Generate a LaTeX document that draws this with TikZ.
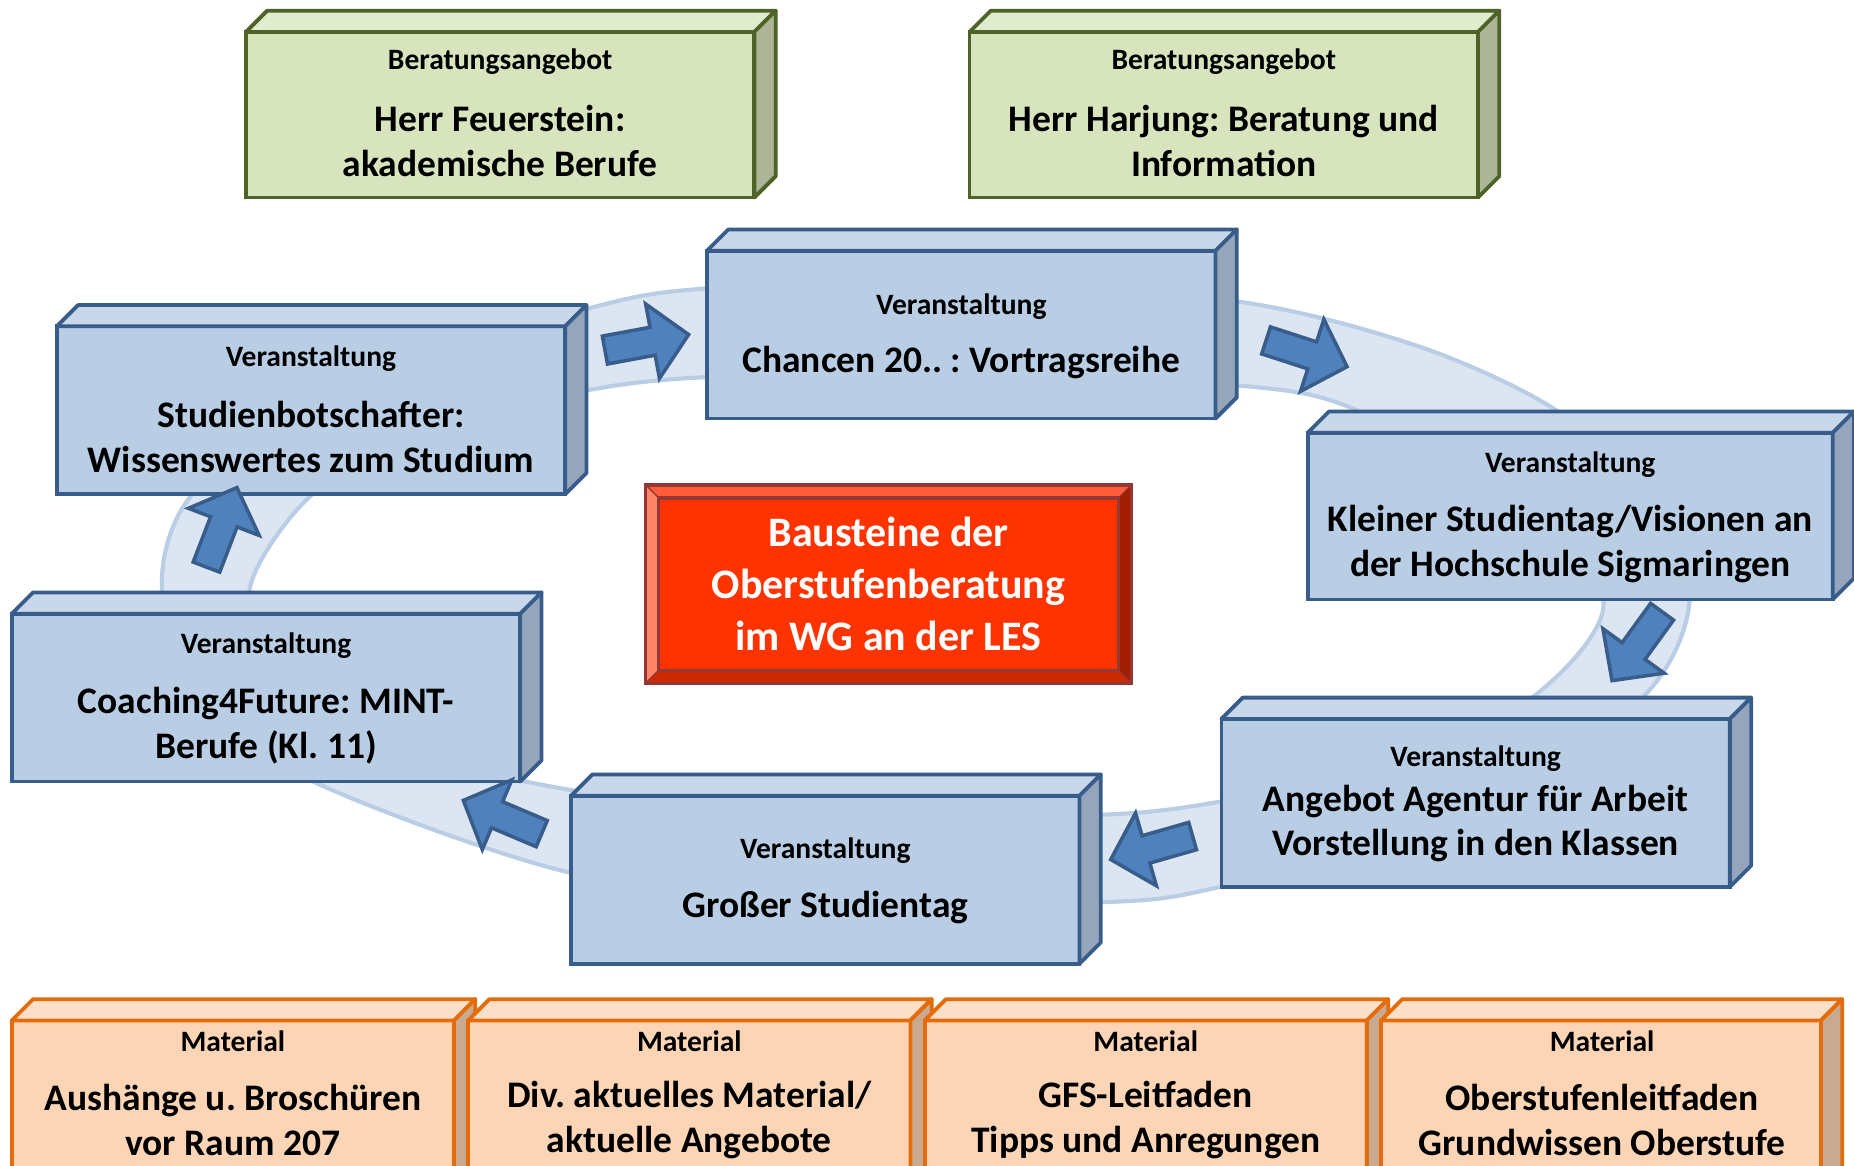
\documentclass[tikz,border=0pt]{standalone}
\usepackage{fontspec}
\setmainfont{Carlito}
\frenchspacing
\definecolor{bluefront}{HTML}{B9CDE5}
\definecolor{bluetop}{HTML}{C8D7EA}
\definecolor{blueside}{HTML}{95A6BC}
\definecolor{blueline}{HTML}{385D8A}
\definecolor{greenfront}{HTML}{D7E4BD}
\definecolor{greentop}{HTML}{E1EBCD}
\definecolor{greenside}{HTML}{ACB697}
\definecolor{greenline}{HTML}{4F6228}
\definecolor{orangefront}{HTML}{FBD5B5}
\definecolor{orangetop}{HTML}{FCDFC8}
\definecolor{orangeside}{HTML}{C9AA91}
\definecolor{orangeline}{HTML}{E46C0A}
\definecolor{ringfill}{HTML}{DCE6F2}
\definecolor{ringline}{HTML}{B9CDE5}
\definecolor{arrowfill}{HTML}{4F81BD}
\definecolor{redface}{HTML}{FF3300}
\definecolor{redtop}{HTML}{FF5C3A}
\definecolor{redleft}{HTML}{FF8566}
\definecolor{redright}{HTML}{A31D00}
\definecolor{redbottom}{HTML}{CC2900}
\definecolor{redline}{HTML}{953735}

\tikzset{
  frontface/.style={draw, line width=3.2pt, inner sep=0pt, outer sep=0pt},
  edgeface/.style={line width=3.2pt, line join=round},
  lab/.style={font=\fontsize{25}{29}\selectfont\bfseries\frenchspacing, inner sep=0pt, align=center},
  maintext/.style={font=\fontsize{31.7}{38}\selectfont\bfseries\frenchspacing, inner sep=0pt, align=center},
  blockarr/.style={fill=arrowfill, draw=blueline, line width=3pt, line join=miter},
  ringband/.style={fill=ringfill, draw=ringline, line width=3.5pt, even odd rule},
  bevel/.style={draw=redline, line width=1pt, line join=round},
}

\newcommand\cubebox[6]{%
  \node[frontface, draw=#6line, fill=#6front, minimum width={#4-#2}, minimum height={#5-#3}] (#1) at ({(#2+#4)/2},{(#3+#5)/2}) {};
  \filldraw[edgeface, draw=#6line, fill=#6top] (#1.north west) -- ++(18,-18) -- ++({#4-#2},0) -- (#1.north east) -- cycle;
  \filldraw[edgeface, draw=#6line, fill=#6side] (#1.north east) -- ++(18,-18) -- ++(0,{#5-#3}) -- (#1.south east) -- cycle;
}
\newcommand\boxtext[6]{%
  \node[lab] (#1l) at (#2,#3) {#4};
  \node[maintext] (#1t) at (#2,#5) {#6};
}
\newcommand\blockarrow[3]{%
  \draw[blockarr, shift={(#1,#2)}, rotate=#3] (-36,-12) -- (5,-12) -- (5,-32) -- (36,0) -- (5,32) -- (5,12) -- (-36,12) -- cycle;
}

\begin{document}
\begin{tikzpicture}[x=1pt, y=-1pt]
\useasboundingbox (0,0) rectangle (1568,986);
\clip (0,0) rectangle (1568,986);

% ring band
\filldraw[ringband]
  plot[smooth cycle] coordinates {(137,499) (161,420) (270,330) (497,261) (596,244) (800,236) (1047,255) (1200,293) (1313,345) (1400,420) (1429,507) (1390,589) (1250,690) (1032,750) (933,763) (700,763) (482,738) (265,661) (170,590)}
  plot[smooth cycle] coordinates {(211,499) (262,420) (360,362) (497,330) (596,319) (800,314) (1047,326) (1143,345) (1270,415) (1356,507) (1297,589) (1170,650) (1032,678) (933,689) (700,692) (482,668) (330,630) (240,570)};

% central red box
\node[fill=redface, minimum width=389pt, minimum height=146pt, inner sep=0pt, outer sep=0pt, text=white, align=center, font=\fontsize{35.5}{44}\selectfont\bfseries] (mid) at (751.5,494) {Bausteine der\\Oberstufenberatung\\im WG an der LES};
\filldraw[bevel, fill=redtop] (mid.north west) -- ++(-11,-11) -- ++(411,0) -- (mid.north east) -- cycle;
\filldraw[bevel, fill=redleft] (mid.north west) -- ++(-11,-11) -- ++(0,168) -- (mid.south west) -- cycle;
\filldraw[bevel, fill=redright] (mid.north east) -- ++(11,-11) -- ++(0,168) -- (mid.south east) -- cycle;
\filldraw[bevel, fill=redbottom] (mid.south west) -- ++(-11,11) -- ++(411,0) -- (mid.south east) -- cycle;
\draw[redline, line width=3pt] (546,410) rectangle (957,578);
\draw[redline, line width=3pt] (mid.north west) rectangle (mid.south east);

% green boxes
\cubebox{g1}{208}{27}{638}{167}{green}
\boxtext{g1}{423}{52}{Beratungsangebot}{119}{Herr Feuerstein:\\akademische Berufe}
\cubebox{g2}{820}{27}{1250}{167}{green}
\boxtext{g2}{1035}{52}{Beratungsangebot}{119}{Herr Harjung: Beratung und\\Information}

% blue boxes
\cubebox{b1}{598}{212}{1028}{354}{blue}
\boxtext{b1}{813}{259}{Veranstaltung}{306.5}{Chancen 20.. : Vortragsreihe}
\cubebox{b2}{48}{276}{478}{418}{blue}
\boxtext{b2}{263}{303}{Veranstaltung}{369.5}{Studienbotschafter:\\Wissenswertes zum Studium}
\cubebox{b3}{1106}{366}{1550}{507}{blue}
\boxtext{b3}{1328}{393}{Veranstaltung}{460}{Kleiner Studientag/Visionen an\\der Hochschule Sigmaringen}
\cubebox{b4}{10}{519}{440}{661}{blue}
\boxtext{b4}{225}{546}{Veranstaltung}{613.5}{Coaching4Future: MINT-\\Berufe (Kl. 11)}
\cubebox{b5}{1033}{608}{1463}{750}{blue}
\boxtext{b5}{1248}{642}{Veranstaltung}{696.5}{Angebot Agentur für Arbeit\\Vorstellung in den Klassen}
\cubebox{b6}{483}{673}{913}{815}{blue}
\boxtext{b6}{698}{719}{Veranstaltung}{767.5}{Großer Studientag}

% orange boxes
\cubebox{o1}{10}{863}{384}{1010}{orange}
\boxtext{o1}{197}{881}{Material}{947.5}{Aushänge u. Broschüren\\vor Raum 207}
\cubebox{o2}{396}{863}{770}{1010}{orange}
\boxtext{o2}{583}{881}{Material}{947.5}{Div. aktuelles Material/\\aktuelle Angebote}
\cubebox{o3}{782}{863}{1156}{1010}{orange}
\boxtext{o3}{969}{881}{Material}{947.5}{GFS-Leitfaden\\Tipps und Anregungen}
\cubebox{o4}{1168}{863}{1540}{1010}{orange}
\boxtext{o4}{1355}{881}{Material}{947.5}{Oberstufenleitfaden\\Grundwissen Oberstufe}

% block arrows
\blockarrow{547}{289.5}{10.5}
\blockarrow{1105}{299}{-18}
\blockarrow{1384.5}{546.5}{234}
\blockarrow{974}{717}{196}
\blockarrow{425}{691}{157}
\blockarrow{187.5}{446}{69}
\end{tikzpicture}
\end{document}
